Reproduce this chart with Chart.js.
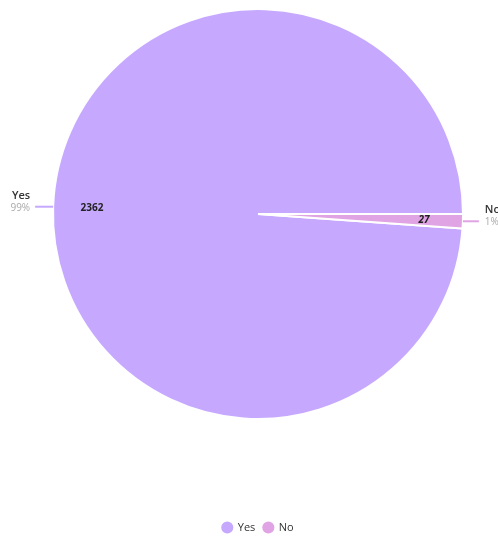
<!DOCTYPE html>
<html>
<head>
<meta charset="utf-8">
<script src="https://cdn.jsdelivr.net/npm/chart.js@4/dist/chart.umd.min.js"></script>
<style>
  html, body { margin: 0; padding: 0; background: #fff; }
  #wrap { width: 498px; height: 537px; }
</style>
</head>
<body>
<div id="wrap"><canvas id="answerChart"></canvas></div>
<script>
const answerLabels = ['Yes', 'No']
const answerData = [2362, 27]
const answerPercent = ['99%', '1%']
const answerColors = ['#c6a9ff', '#e0a3e3']

const total = answerData.reduce((a, b) => a + b, 0)
// start Yes just below 3 o'clock so the small slice sits right under it
const startAngle = 90 + 360 * answerData[1] / total

//slice values inside and name / percent outside with a short leader line
const sliceLabels = {
  id: 'sliceLabels',
  afterDatasetsDraw(chart) {
    const ctx = chart.ctx
    const meta = chart.getDatasetMeta(0)
    ctx.save()
    meta.data.forEach((arc, i) => {
      const mid = (arc.startAngle + arc.endAngle) / 2
      const cos = Math.cos(mid), sin = Math.sin(mid)
      const r = arc.outerRadius

      // value inside the slice
      ctx.fillStyle = '#222'
      ctx.font = (i === 1 ? 'italic ' : '') + 'bold 10px "Open Sans", sans-serif'
      ctx.textAlign = 'center'
      ctx.textBaseline = 'middle'
      ctx.fillText(answerData[i], arc.x + cos * r * 0.81, arc.y + sin * r * 0.81)

      // leader line
      const right = cos >= 0
      const x0 = arc.x + cos * r
      const y0 = arc.y + sin * r
      const x1 = x0 + (right ? 16 : -18)
      ctx.strokeStyle = answerColors[i]
      ctx.lineWidth = 2
      ctx.beginPath()
      ctx.moveTo(x0, y0)
      ctx.lineTo(x1, y0)
      ctx.stroke()

      const tx = right ? x1 + 6 : x1 - 5
      ctx.textAlign = right ? 'left' : 'right'
      ctx.font = '600 11px "Open Sans", sans-serif'
      ctx.fillStyle = '#333'
      ctx.fillText(answerLabels[i], tx, y0 - 11)
      ctx.font = '10px "Open Sans", sans-serif'
      ctx.fillStyle = '#aaa'
      ctx.fillText(answerPercent[i], tx, y0 + 1)
    })
    ctx.restore()
  }
}

new Chart(document.getElementById('answerChart'), {
  type: 'pie',
  data: {
    labels: answerLabels,
    datasets: [{
      data: answerData,
      backgroundColor: answerColors,
      borderColor: '#fff',
      borderWidth: 2
    }]
  },
  options: {
    responsive: true,
    maintainAspectRatio: false,
    animation: false,
    rotation: startAngle,
    layout: {
      padding: { top: 8, bottom: -6, left: 50, right: 32 }
    },
    plugins: {
      legend: {
        display: true,
        position: 'bottom',
        // empty title used as a spacer between pie and legend items
        title: {
          display: true,
          text: ' ',
          font: { size: 10 },
          padding: { top: 0, bottom: 82 }
        },
        labels: {
          usePointStyle: true,
          pointStyle: 'circle',
          boxWidth: 10,
          boxHeight: 10,
          padding: 8,
          color: '#333',
          font: { size: 11, family: '"Open Sans", sans-serif' }
        }
      },
      tooltip: { enabled: false }
    }
  },
  plugins: [sliceLabels]
});
</script>
</body>
</html>
